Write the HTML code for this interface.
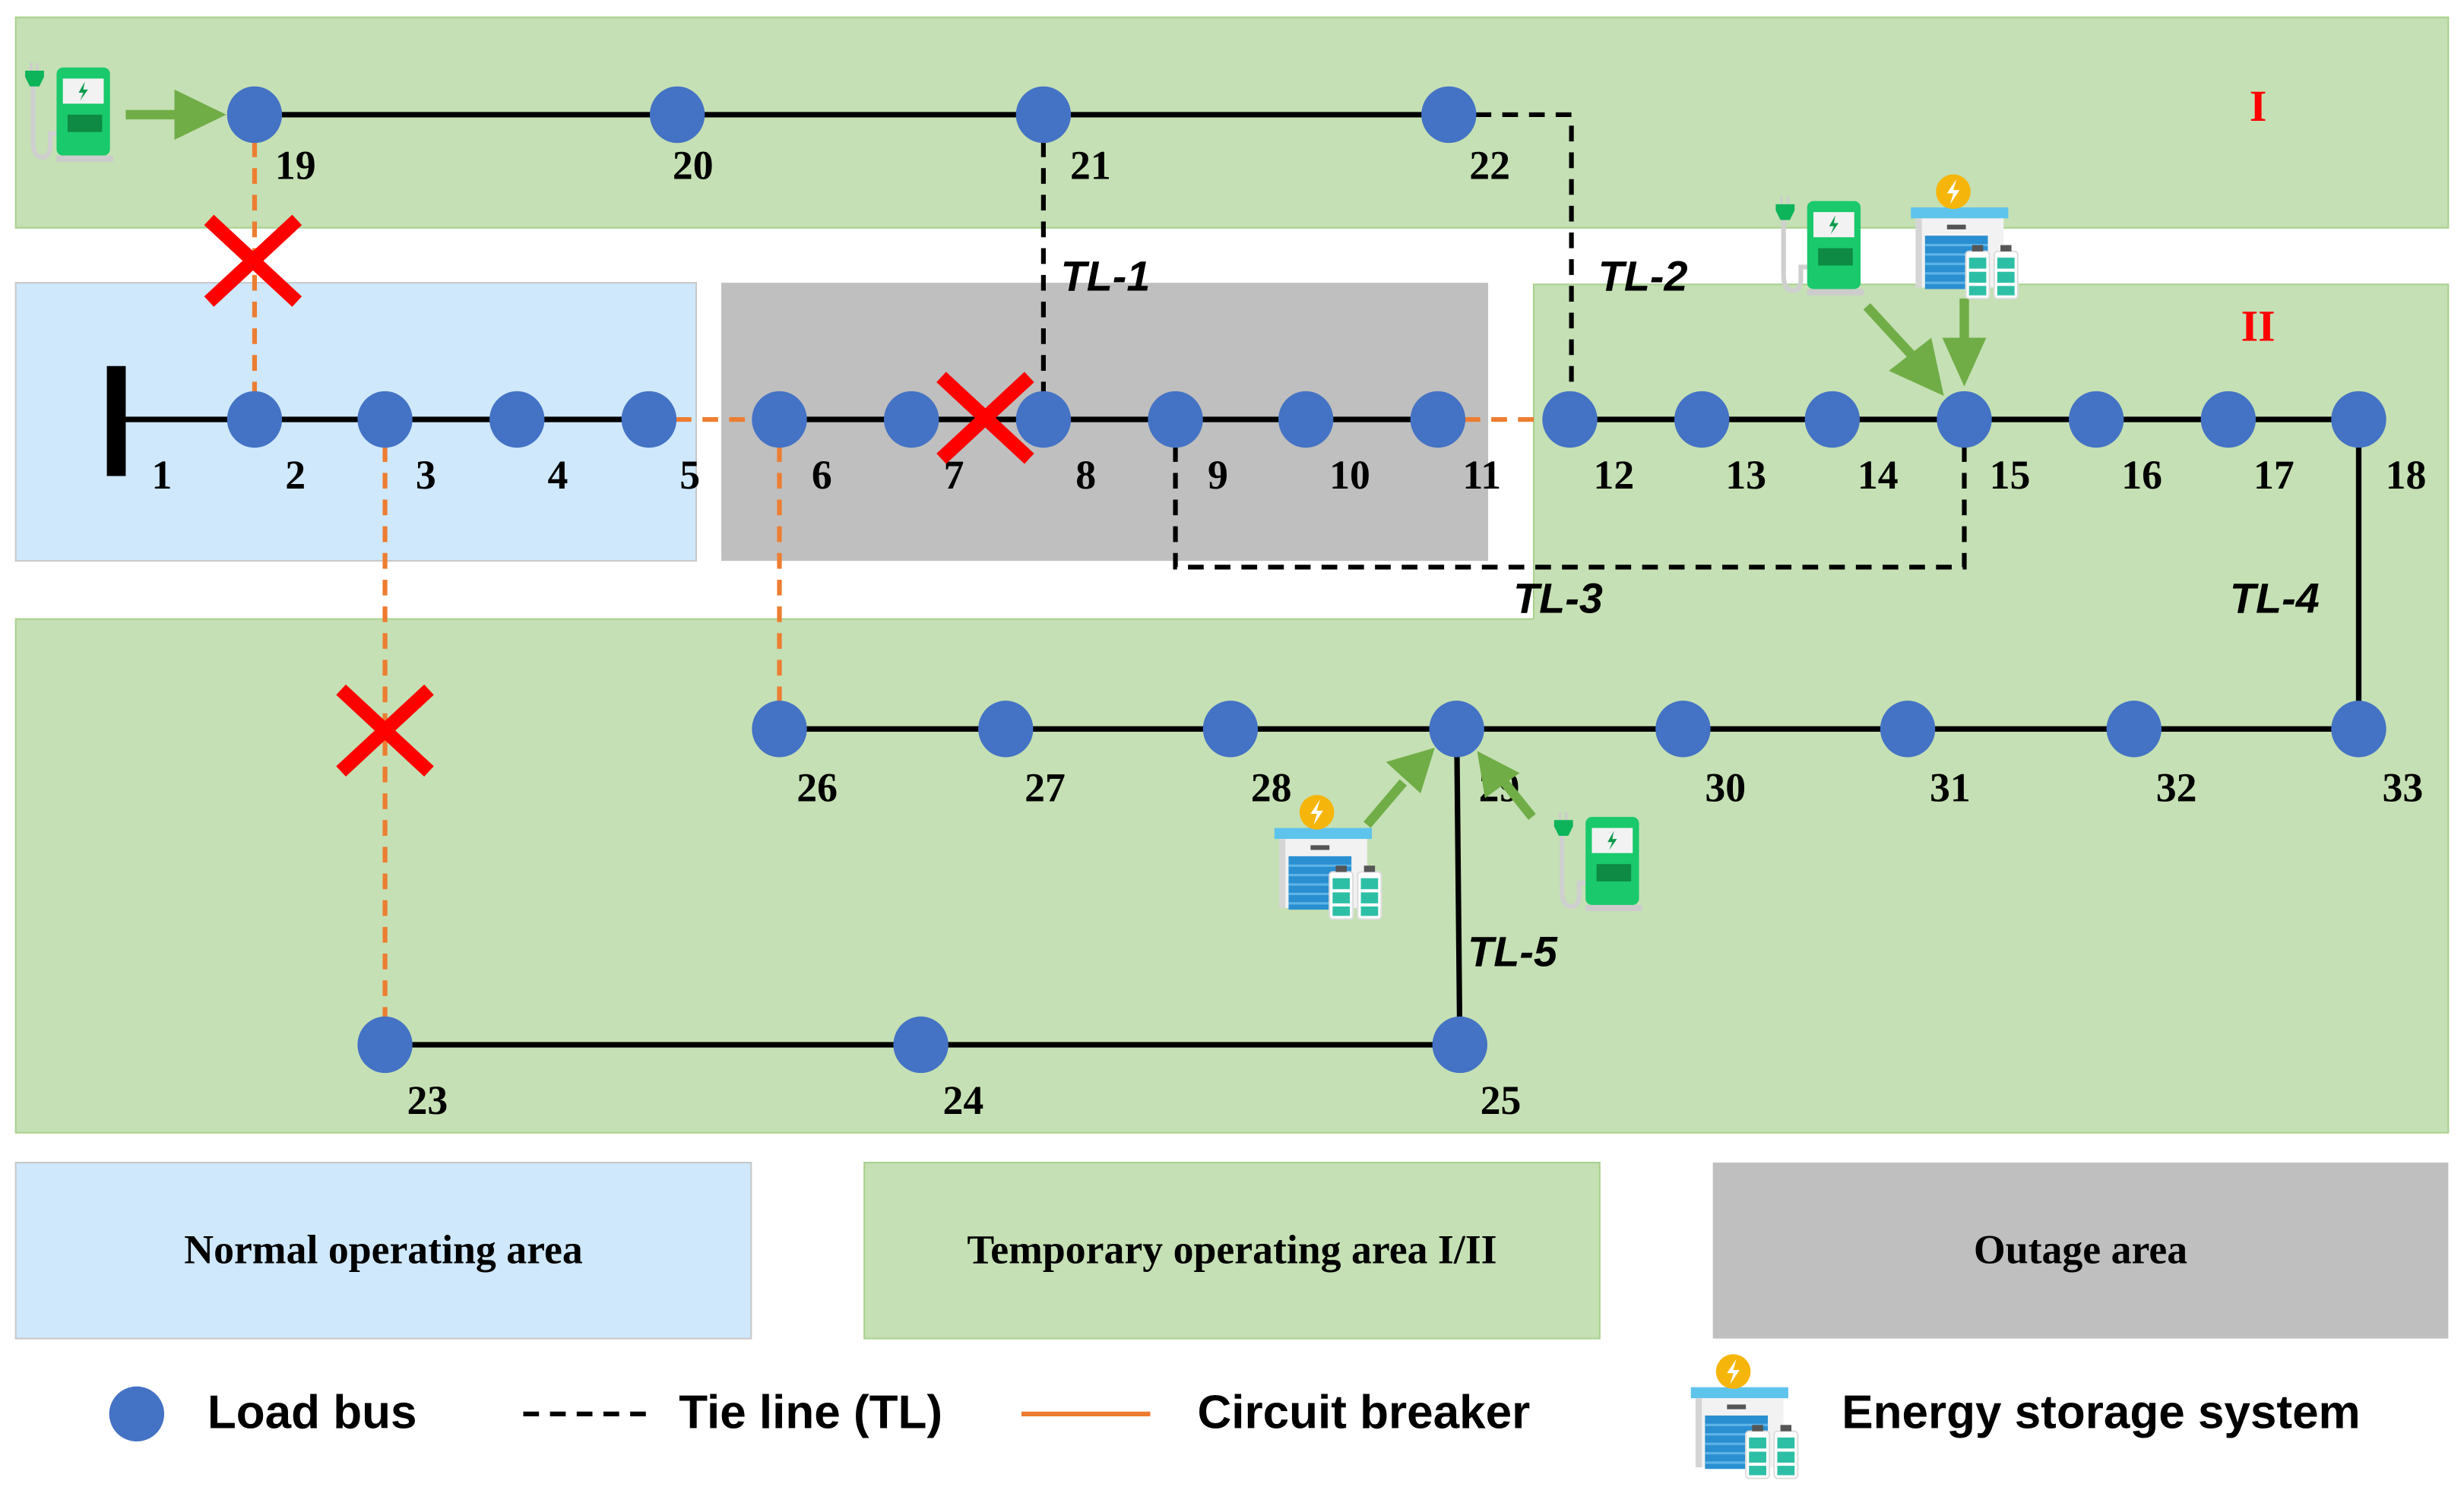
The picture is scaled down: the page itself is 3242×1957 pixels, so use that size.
<!DOCTYPE html>
<html><head><meta charset="utf-8"><style>
html,body{margin:0;padding:0;background:#fff}
svg{display:block}
.n{fill:#4472c4}
.lb{font-family:"Liberation Serif",serif;font-weight:bold;font-size:26px;fill:#000}
.tl{font-family:"Liberation Sans",sans-serif;font-weight:bold;font-style:italic;font-size:27px;fill:#000}
.lg{font-family:"Liberation Sans",sans-serif;font-weight:bold;font-size:30px;fill:#000}
.bx{font-family:"Liberation Serif",serif;font-weight:bold;font-size:26px;fill:#000}
</style></head><body>
<svg width="3242" height="1957" viewBox="0 0 1568 946.5" preserveAspectRatio="none" xmlns="http://www.w3.org/2000/svg">
<defs>
<g id="chg">
  <path d="M7 14 V50 Q7 60 13 60 Q18 60 18 52 V45 H22" fill="none" stroke="#cfcfcf" stroke-width="3"/>
  <rect x="5" y="0" width="1.5" height="5" fill="#ccc"/><rect x="9" y="0" width="1.5" height="5" fill="#ccc"/>
  <path d="M2 5 H14 V9 L11 15 H5 L2 9Z" fill="#0db45a"/>
  <rect x="22" y="3" width="34" height="56" rx="4" fill="#19c96b"/>
  <rect x="26" y="10" width="26" height="16" fill="#f2f2f2"/>
  <path d="M40 12 L36 19 H39 L37 24 L42 17 H39Z" fill="#0a9a4c"/>
  <rect x="29" y="33" width="22" height="11" fill="#0e8a45"/>
  <rect x="22" y="59" width="36" height="4" fill="#ccc"/>
</g>
<g id="ess">
  <rect x="3" y="22" width="62" height="7" fill="#5ec4ec"/>
  <rect x="6" y="29" width="56" height="44" fill="#f2f2f2"/>
  <rect x="6" y="29" width="4" height="44" fill="#d5d5d5"/>
  <rect x="26" y="33" width="12" height="3" fill="#555"/>
  <rect x="12" y="40" width="40" height="34" fill="#2a8fd0"/>
  <g stroke="#5fb4e6" stroke-width="1.5"><line x1="12" y1="46" x2="52" y2="46"/><line x1="12" y1="52" x2="52" y2="52"/><line x1="12" y1="58" x2="52" y2="58"/><line x1="12" y1="64" x2="52" y2="64"/><line x1="12" y1="70" x2="52" y2="70"/></g>
  <circle cx="30" cy="12" r="11" fill="#f5b50a"/>
  <path d="M32 4 L26 13 H30 L28 20 L34 11 H30Z" fill="#fff"/>
  <rect x="38" y="50" width="15" height="30" rx="2" fill="#fff" stroke="#ddd"/>
  <rect x="56" y="50" width="15" height="30" rx="2" fill="#fff" stroke="#ddd"/>
  <g fill="#2dbfa6"><rect x="40" y="54" width="11" height="7"/><rect x="40" y="63" width="11" height="7"/><rect x="40" y="72" width="11" height="6"/><rect x="58" y="54" width="11" height="7"/><rect x="58" y="63" width="11" height="7"/><rect x="58" y="72" width="11" height="6"/></g>
  <rect x="42" y="46" width="7" height="4" fill="#555"/><rect x="60" y="46" width="7" height="4" fill="#555"/>
</g>
<g id="xx"><path d="M-28 -26 L28 26 M28 -26 L-28 26" stroke="#ff0000" stroke-width="9"/></g>
</defs>
<!-- areas -->
<rect x="10" y="11" width="1548" height="134" fill="#c5e0b4" stroke="#a9d18e" stroke-width="1"/>
<rect x="10" y="180" width="433" height="177" fill="#cfe8fc" stroke="#c8c8c8" stroke-width="1"/>
<rect x="459" y="180" width="488" height="177" fill="#bfbfbf"/>
<path d="M976 181 H1558 V721 H10 V394 H976 Z" fill="#c5e0b4" stroke="#a9d18e" stroke-width="1"/>
<!-- legend boxes -->
<rect x="10" y="740" width="468" height="112" fill="#cfe8fc" stroke="#c8c8c8"/>
<rect x="550" y="740" width="468" height="112" fill="#c5e0b4" stroke="#a9d18e"/>
<rect x="1090" y="740" width="468" height="112" fill="#bfbfbf"/>
<text class="bx" x="244" y="804" text-anchor="middle">Normal operating area</text>
<text class="bx" x="784" y="804" text-anchor="middle">Temporary operating area I/II</text>
<text class="bx" x="1324" y="804" text-anchor="middle">Outage area</text>
<!-- lines -->
<g stroke="#000" stroke-width="3.5" fill="none">
<line x1="74" y1="267" x2="413" y2="267"/>
<line x1="496" y1="267" x2="915" y2="267"/>
<line x1="999" y1="267" x2="1501" y2="267"/>
<line x1="1501" y1="267" x2="1501" y2="464"/>
<line x1="496" y1="464" x2="1501" y2="464"/>
<line x1="245" y1="665" x2="929" y2="665"/>
<line x1="929" y1="665" x2="927" y2="464"/>
<line x1="162" y1="73" x2="922" y2="73"/>
</g>
<rect x="68" y="233" width="12" height="70" fill="#000"/>
<g stroke="#000" stroke-width="3" fill="none" stroke-dasharray="10,7">
<line x1="664" y1="73" x2="664" y2="267"/>
<path d="M922 73 H1000 V267"/>
<path d="M748 267 V361 H1250 V267"/>
</g>
<g stroke="#ed7d31" stroke-width="3" fill="none" stroke-dasharray="10,7">
<line x1="413" y1="267" x2="496" y2="267"/>
<line x1="915" y1="267" x2="999" y2="267"/>
<line x1="162" y1="73" x2="162" y2="267"/>
<line x1="245" y1="267" x2="245" y2="665"/>
<line x1="496" y1="267" x2="496" y2="464"/>
</g>
<!-- nodes -->
<g class="n">
<ellipse cx="162" cy="73" rx="17.5" ry="18"/><ellipse cx="431" cy="73" rx="17.5" ry="18"/><ellipse cx="664" cy="73" rx="17.5" ry="18"/><ellipse cx="922" cy="73" rx="17.5" ry="18"/>
<ellipse cx="162" cy="267" rx="17.5" ry="18"/><ellipse cx="245" cy="267" rx="17.5" ry="18"/><ellipse cx="329" cy="267" rx="17.5" ry="18"/><ellipse cx="413" cy="267" rx="17.5" ry="18"/><ellipse cx="496" cy="267" rx="17.5" ry="18"/><ellipse cx="580" cy="267" rx="17.5" ry="18"/><ellipse cx="664" cy="267" rx="17.5" ry="18"/><ellipse cx="748" cy="267" rx="17.5" ry="18"/><ellipse cx="831" cy="267" rx="17.5" ry="18"/><ellipse cx="915" cy="267" rx="17.5" ry="18"/><ellipse cx="999" cy="267" rx="17.5" ry="18"/><ellipse cx="1083" cy="267" rx="17.5" ry="18"/><ellipse cx="1166" cy="267" rx="17.5" ry="18"/><ellipse cx="1250" cy="267" rx="17.5" ry="18"/><ellipse cx="1334" cy="267" rx="17.5" ry="18"/><ellipse cx="1418" cy="267" rx="17.5" ry="18"/><ellipse cx="1501" cy="267" rx="17.5" ry="18"/>
<ellipse cx="496" cy="464" rx="17.5" ry="18"/><ellipse cx="640" cy="464" rx="17.5" ry="18"/><ellipse cx="783" cy="464" rx="17.5" ry="18"/><ellipse cx="927" cy="464" rx="17.5" ry="18"/><ellipse cx="1071" cy="464" rx="17.5" ry="18"/><ellipse cx="1214" cy="464" rx="17.5" ry="18"/><ellipse cx="1358" cy="464" rx="17.5" ry="18"/><ellipse cx="1501" cy="464" rx="17.5" ry="18"/>
<ellipse cx="245" cy="665" rx="17.5" ry="18"/><ellipse cx="586" cy="665" rx="17.5" ry="18"/><ellipse cx="929" cy="665" rx="17.5" ry="18"/>
</g>
<!-- labels -->
<g class="lb" text-anchor="middle">
<text x="188" y="114">19</text><text x="441" y="114">20</text><text x="694" y="114">21</text><text x="948" y="114">22</text>
<text x="103" y="311">1</text><text x="188" y="311">2</text><text x="271" y="311">3</text><text x="355" y="311">4</text><text x="439" y="311">5</text><text x="523" y="311">6</text><text x="607" y="311">7</text><text x="691" y="311">8</text><text x="775" y="311">9</text><text x="859" y="311">10</text><text x="943" y="311">11</text><text x="1027" y="311">12</text><text x="1111" y="311">13</text><text x="1195" y="311">14</text><text x="1279" y="311">15</text><text x="1363" y="311">16</text><text x="1447" y="311">17</text><text x="1531" y="311">18</text>
<text x="520" y="510">26</text><text x="665" y="510">27</text><text x="809" y="510">28</text><text x="954" y="510">29</text><text x="1098" y="510">30</text><text x="1241" y="510">31</text><text x="1385" y="510">32</text><text x="1529" y="510">33</text>
<text x="272" y="709">23</text><text x="613" y="709">24</text><text x="955" y="709">25</text>
</g>
<text x="1437" y="77" text-anchor="middle" font-family="Liberation Serif,serif" font-weight="bold" font-size="28" fill="#ff0000">I</text>
<text x="1437" y="217" text-anchor="middle" font-family="Liberation Serif,serif" font-weight="bold" font-size="28" fill="#ff0000">II</text>
<text class="tl" x="675" y="185">TL-1</text>
<text class="tl" x="1017" y="185">TL-2</text>
<text class="tl" x="963" y="390">TL-3</text>
<text class="tl" x="1419" y="390">TL-4</text>
<text class="tl" x="934" y="615">TL-5</text>
<!-- X marks -->
<use href="#xx" x="161" y="166"/><use href="#xx" x="245" y="465"/><use href="#xx" x="627" y="266"/>
<!-- green arrows -->
<g fill="#70ad47" stroke="#70ad47">
<line x1="80" y1="73" x2="115" y2="73" stroke-width="6"/><path d="M111 57 L144 73 L111 89Z" stroke="none"/>
<line x1="1188" y1="195" x2="1222" y2="232" stroke-width="6"/><path d="M1202 236 L1237 252 L1229 215Z" stroke="none"/>
<line x1="1250" y1="190" x2="1250" y2="220" stroke-width="6"/><path d="M1236 215 L1250 246 L1264 215Z" stroke="none"/>
<line x1="870" y1="525" x2="893" y2="498" stroke-width="6"/><path d="M882 485 L913 476 L904 505Z" stroke="none"/>
<line x1="975" y1="520" x2="955" y2="495" stroke-width="6"/><path d="M940 478 L967 492 L945 508Z" stroke="none"/>
</g>
<!-- icons -->
<use href="#chg" x="14" y="40"/>
<use href="#chg" x="1128" y="125"/>
<use href="#ess" x="1213" y="110"/>
<use href="#ess" x="808" y="505"/>
<use href="#chg" x="987" y="517"/>
<!-- legend row -->
<circle cx="87" cy="900" r="17.5" fill="#4472c4"/>
<text class="lg" x="132" y="909">Load bus</text>
<line x1="333" y1="900" x2="413" y2="900" stroke="#000" stroke-width="3" stroke-dasharray="10,7"/>
<text class="lg" x="432" y="909">Tie line (TL)</text>
<line x1="650" y1="900" x2="732" y2="900" stroke="#ed7d31" stroke-width="3"/>
<text class="lg" x="762" y="909">Circuit breaker</text>
<use href="#ess" x="1073" y="861"/>
<text class="lg" x="1172" y="909">Energy storage system</text>
</svg>
</body></html>
